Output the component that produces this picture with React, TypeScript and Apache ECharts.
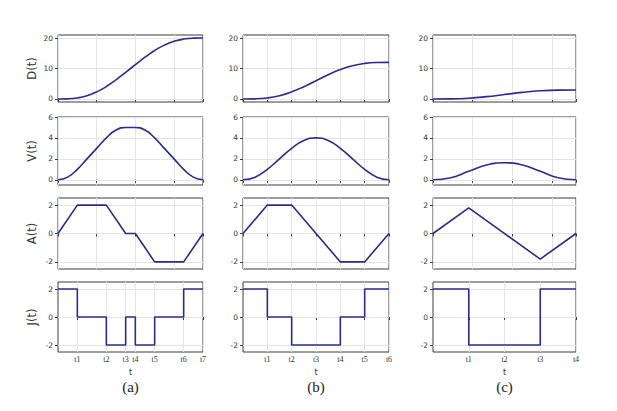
import React, { useEffect, useRef } from "react";
import * as echarts from "echarts";

// ---- (a) seven-segment jerk profile ----
const sampleTimesA = [0, 0.5, 1, 1.5, 2, 2.5, 3, 3.5, 4, 4.5, 5, 5.5, 6, 6.5, 7, 7.5];
const dispA = [0, 0.04, 0.33, 1.08, 2.33, 4.08, 6.29, 8.75, 11.25, 13.71, 15.92, 17.67, 18.92, 19.67, 19.96, 20];
const velA = [0, 0.25, 1, 2, 3, 4, 4.75, 5, 5, 4.75, 4, 3, 2, 1, 0.25, 0];
const breakTimesA = [0, 1, 2.5, 3.5, 4, 5, 6.5, 7.5];
const accA = [0, 2, 2, 0, 0, -2, -2, 0];
const jerkA = [2, 0, -2, 0, -2, 0, 2, 2];
const tickTimesA = [1, 2.5, 3.5, 4, 5, 6.5, 7.5];
const tickLabelsA = ["t1", "t2", "t3", "t4", "t5", "t6", "t7"];

// ---- (b) five-segment profile ----
const sampleTimesB = [0, 0.5, 1, 1.5, 2, 2.5, 3, 3.5, 4, 4.5, 5, 5.5, 6];
const dispB = [0, 0.04, 0.33, 1.08, 2.33, 4.04, 6, 7.96, 9.67, 10.92, 11.67, 11.96, 12];
const velB = [0, 0.25, 1, 2, 3, 3.75, 4, 3.75, 3, 2, 1, 0.25, 0];
const breakTimesB = [0, 1, 2, 4, 5, 6];
const accB = [0, 2, 2, -2, -2, 0];
const jerkB = [2, 0, -2, 0, 2, 2];
const tickTimesB = [1, 2, 3, 4, 5, 6];
const tickLabelsB = ["t1", "t2", "t3", "t4", "t5", "t6"];

// ---- (c) three-segment profile ----
const sampleTimesC = [0, 0.45, 0.9, 1.35, 1.8, 2.25, 2.7, 3.15, 3.6];
const dispC = [0, 0.03, 0.24, 0.76, 1.46, 2.16, 2.67, 2.89, 2.92];
const velC = [0, 0.2, 0.81, 1.42, 1.62, 1.42, 0.81, 0.2, 0];
const breakTimesC = [0, 0.9, 2.7, 3.6];
const accC = [0, 1.8, -1.8, 0];
const jerkC = [2, -2, 2, 2];
const tickTimesC = [0.9, 1.8, 2.7, 3.6];
const tickLabelsC = ["t1", "t2", "t3", "t4"];

// ---- axes ----
const rowNames = ["D(t)", "V(t)", "A(t)", "J(t)"];
const rowMin = [-1, -0.5, -2.5, -2.5];
const rowMax = [21, 6, 2.5, 2.5];
const rowTicks = [[0, 10, 20], [0, 2, 4, 6], [-2, 0, 2], [-2, 0, 2]];
const captions = ["(a)", "(b)", "(c)"];

const zip = (xs: number[], ys: number[]) => xs.map((x, i) => [x, ys[i]]);

const columns = [
  { samples: sampleTimesA, disp: dispA, vel: velA, breaks: breakTimesA, acc: accA, jerk: jerkA, tickTimes: tickTimesA, tickLabels: tickLabelsA, tMax: 7.5, step: 2 },
  { samples: sampleTimesB, disp: dispB, vel: velB, breaks: breakTimesB, acc: accB, jerk: jerkB, tickTimes: tickTimesB, tickLabels: tickLabelsB, tMax: 6, step: 1 },
  { samples: sampleTimesC, disp: dispC, vel: velC, breaks: breakTimesC, acc: accC, jerk: jerkC, tickTimes: tickTimesC, tickLabels: tickLabelsC, tMax: 3.6, step: 1 },
];

const colLeft = [58, 243, 433];
const colWidth = [145, 146, 143];
const rowTop = [35, 117, 198, 282];
const rowHeight = [67, 68, 71, 70];

const LINE = "#2b2b8f";
const FRAME = "#3c3c3c";
const GRIDLINE = "#e4e4e4";
const TEXT = "#333333";

function buildOption() {
  const grid: any[] = [];
  const xAxis: any[] = [];
  const yAxis: any[] = [];
  const series: any[] = [];
  const graphic: any[] = [];

  columns.forEach((col, c) => {
    const rowsData = [
      { data: zip(col.samples, col.disp), smooth: true, step: false },
      { data: zip(col.samples, col.vel), smooth: true, step: false },
      { data: zip(col.breaks, col.acc), smooth: false, step: false },
      { data: zip(col.breaks, col.jerk), smooth: false, step: "end" },
    ];
    rowsData.forEach((rd, r) => {
      const idx = c * 4 + r;
      const isBottom = r === 3;
      grid.push({
        left: colLeft[c],
        top: rowTop[r],
        width: colWidth[c],
        height: rowHeight[r],
        show: true,
        borderColor: FRAME,
        borderWidth: 1,
        backgroundColor: "transparent",
        z: 0,
      });
      const xTick: any = { show: true, length: 3, lineStyle: { color: FRAME } };
      const xLabel: any = { show: false };
      if (isBottom) {
        xTick.customValues = col.tickTimes;
        xLabel.show = true;
        xLabel.customValues = col.tickTimes;
        xLabel.formatter = (v: number) => {
          const k = col.tickTimes.findIndex((t) => Math.abs(t - v) < 1e-6);
          return k >= 0 ? col.tickLabels[k] : "";
        };
        xLabel.fontSize = 8;
        xLabel.fontFamily = "Liberation Serif";
        xLabel.color = TEXT;
        xLabel.margin = 3;
      }
      xAxis.push({
        type: "value",
        gridIndex: idx,
        min: 0,
        max: col.tMax,
        interval: col.step,
        axisLine: { show: false },
        axisTick: xTick,
        axisLabel: xLabel,
        splitLine: { show: true, lineStyle: { color: GRIDLINE, width: 1 } },
        name: isBottom ? "t" : "",
        nameLocation: "middle",
        nameGap: 16,
        nameTextStyle: { fontSize: 8, color: TEXT, fontFamily: "DejaVu Sans" },
      });
      yAxis.push({
        type: "value",
        gridIndex: idx,
        min: rowMin[r],
        max: rowMax[r],
        axisLine: { show: false },
        axisTick: { show: true, length: 3, customValues: rowTicks[r], lineStyle: { color: FRAME } },
        axisLabel: { customValues: rowTicks[r], fontSize: 7.5, color: TEXT, margin: 5, fontFamily: "DejaVu Sans" },
        splitLine: { show: false },
        name: c === 0 ? rowNames[r] : "",
        nameLocation: "middle",
        nameRotate: 90,
        nameGap: 20,
        nameTextStyle: { fontSize: 11.5, color: TEXT, fontFamily: "DejaVu Sans" },
      });
      // horizontal grid lines at the labelled values, kept beneath the curves
      series.push({
        type: "line",
        xAxisIndex: idx,
        yAxisIndex: idx,
        data: [[0, rowTicks[r][0]]],
        showSymbol: false,
        symbol: "none",
        lineStyle: { opacity: 0 },
        silent: true,
        z: 1,
        markLine: {
          silent: true,
          z: 1,
          symbol: ["none", "none"],
          label: { show: false },
          lineStyle: { color: GRIDLINE, type: "solid", width: 1 },
          emphasis: { disabled: true },
          data: rowTicks[r].map((v) => ({ yAxis: v })),
        },
      });
      series.push({
        type: "line",
        xAxisIndex: idx,
        yAxisIndex: idx,
        data: rd.data,
        smooth: rd.smooth,
        step: rd.step,
        showSymbol: false,
        symbol: "none",
        lineStyle: { color: LINE, width: 1.6 },
        z: 10,
      });
    });
    graphic.push({
      type: "text",
      x: colLeft[c] + colWidth[c] / 2,
      y: 387,
      style: {
        text: captions[c],
        fill: "#222",
        font: '15px "Liberation Serif"',
        textAlign: "center",
        textVerticalAlign: "middle",
      },
    });
  });

  return { animation: false, backgroundColor: "#ffffff", grid, xAxis, yAxis, series, graphic };
}

export default function App() {
  const ref = useRef<HTMLDivElement>(null);
  useEffect(() => {
    if (!ref.current) return;
    const chart = echarts.init(ref.current, undefined, { renderer: "svg" });
    chart.setOption(buildOption() as any);
    return () => chart.dispose();
  }, []);
  return (
    <div
      ref={ref}
      style={{ position: "absolute", left: 0, top: 0, width: 617, height: 411, background: "#fff" }}
    />
  );
}
